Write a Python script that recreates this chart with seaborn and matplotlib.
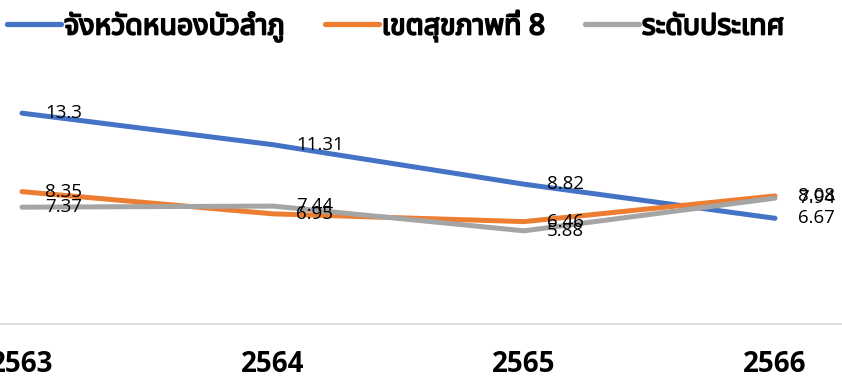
import numpy as np
import pandas as pd
import matplotlib
matplotlib.use("Agg")
import matplotlib.pyplot as plt
import matplotlib.patheffects as pe
import seaborn as sns
from matplotlib import font_manager as fm
from matplotlib.ft2font import FT2Font

years = ["2563", "2564", "2565", "2566"]
series_names = ["จังหวัดหนองบัวลำภู", "เขตสุขภาพที่ 8", "ระดับประเทศ"]
province = [13.3, 11.31, 8.82, 6.67]
region8 = [8.35, 6.95, 6.46, 8.08]
national = [7.37, 7.44, 5.88, 7.94]
colors = ["#4472C4", "#ED7D31", "#A5A5A5"]


def has_thai(path):
    try:
        f = FT2Font(path)
        cm = f.get_charmap()
        return 0x0E08 in cm and 0x0E31 in cm and 0x0E2B in cm
    except Exception:
        return False


thai_fams = []
for fe in fm.fontManager.ttflist:
    if fe.name not in thai_fams and has_thai(fe.fname):
        thai_fams.append(fe.name)
pref = ["Noto Sans Thai", "Noto Sans Thai UI", "Tahoma", "Leelawadee UI", "Loma", "Garuda", "Tlwg Typo", "Kinnari"]
thai_fams.sort(key=lambda n: pref.index(n) if n in pref else len(pref))

sns.set_theme(style="white")
plt.rcParams["font.family"] = thai_fams[:1] + ["DejaVu Sans"]

avail = {f.name for f in fm.fontManager.ttflist}
num_family = [f for f in ["Open Sans", "Noto Sans", "DejaVu Sans"] if f in avail] or ["DejaVu Sans"]

df = pd.DataFrame({
    "year": years * 3,
    "value": province + region8 + national,
    "series": sum([[s] * 4 for s in series_names], []),
})
df["x"] = df["year"].map({y: i for i, y in enumerate(years)})

fig = plt.figure(figsize=(8.42, 3.79), dpi=100)
ax = fig.add_axes([0, 0.145, 1, 0.697])
sns.lineplot(data=df, x="x", y="value", hue="series", hue_order=series_names,
             palette=colors, linewidth=3.6, ax=ax, legend=False, sort=False)

for s in series_names:
    sub = df[df["series"] == s]
    for xv, yv in zip(sub["x"], sub["value"]):
        ax.annotate(f"{yv:g}", (xv, yv), xytext=(23, 0), textcoords="offset pixels",
                    ha="left", va="center", fontsize=13.5, color="black",
                    family=num_family[:1] + ["DejaVu Sans"])

ax.set_xlim(-0.0876, 3.267)
ax.set_ylim(0, 16.66)
ax.set_xticks(range(len(years)))
ax.set_xticklabels(years, fontsize=20, fontweight="bold", color="black",
                   family=num_family[:1] + ["DejaVu Sans"])
ax.tick_params(axis="x", length=0, pad=19)
ax.set_yticks([])
ax.set_xlabel("")
ax.set_ylabel("")
for sp in ["top", "left", "right"]:
    ax.spines[sp].set_visible(False)
ax.spines["bottom"].set_color("#D9D9D9")
ax.spines["bottom"].set_linewidth(1.2)

handles = [plt.Line2D([], [], color=c, linewidth=3.8, solid_capstyle="round") for c in colors]
leg = fig.legend(handles, series_names, loc="upper center", bbox_to_anchor=(0.47, 1.04),
                 ncol=3, frameon=False, handlelength=1.9, handletextpad=0.1,
                 columnspacing=1.4, prop={"size": 20.5, "weight": "bold"})
for t in leg.get_texts():
    t.set_color("black")
    t.set_path_effects([pe.withStroke(linewidth=1.3, foreground="black")])

fig.savefig("out.png", dpi=100)
